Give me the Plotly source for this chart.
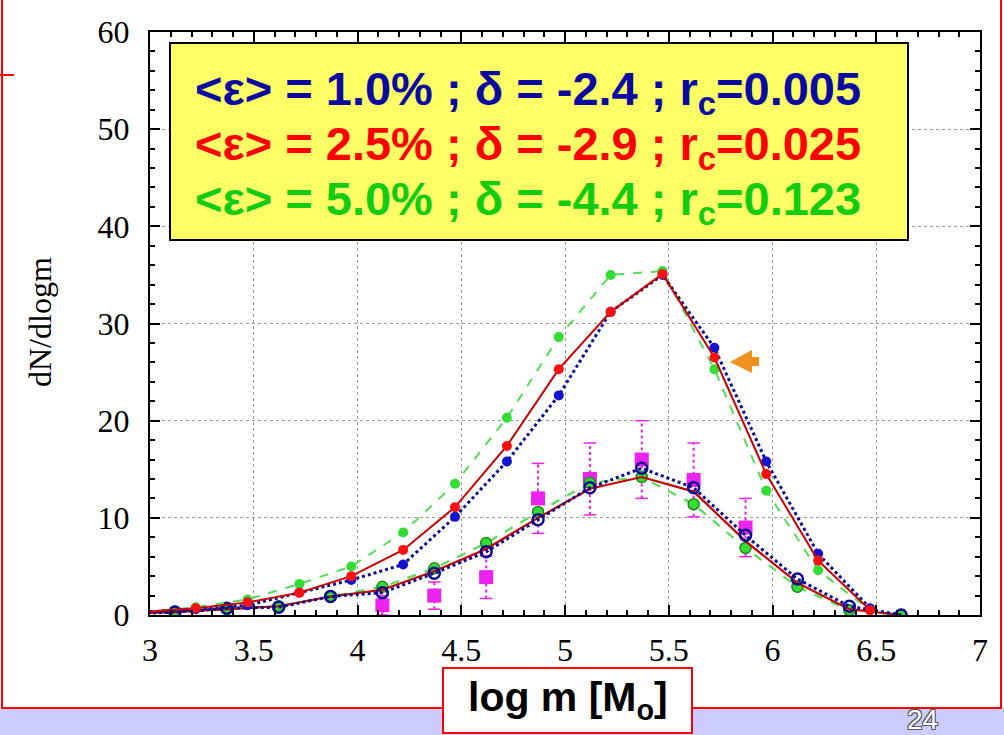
import plotly.graph_objects as go

# ---------------- data ----------------
x_upper = [2.97, 3.22, 3.47, 3.72, 3.97, 4.22, 4.47, 4.72, 4.97, 5.22, 5.47, 5.72, 5.97, 6.22, 6.47]
blue_upper = [0.3, 0.6, 1.0, 2.3, 3.6, 5.2, 10.1, 15.8, 22.6, 31.2, 35.0, 27.5, 15.8, 6.3, 0.7]
red_upper = [0.3, 0.7, 1.3, 2.3, 4.0, 6.7, 11.1, 17.4, 25.3, 31.2, 35.1, 26.5, 14.5, 5.6, 0.5]
green_upper = [0.3, 0.8, 1.6, 3.2, 5.0, 8.5, 13.5, 20.3, 28.6, 35.0, 35.4, 25.3, 12.8, 4.6, 0.5]

x_lower = [2.87, 3.12, 3.37, 3.62, 3.87, 4.12, 4.37, 4.62, 4.87, 5.12, 5.37, 5.62, 5.87, 6.12, 6.37, 6.62]
blue_lower = [0.1, 0.3, 0.7, 0.8, 1.9, 2.3, 4.3, 6.5, 9.8, 13.1, 15.1, 13.1, 8.2, 3.7, 0.9, 0.0]
red_lower = [0.1, 0.3, 0.6, 0.9, 1.9, 2.6, 4.5, 6.8, 10.0, 13.0, 14.2, 12.7, 7.6, 3.3, 0.6, 0.0]
green_lower = [0.1, 0.3, 0.6, 0.9, 1.9, 2.9, 4.8, 7.4, 10.6, 13.6, 14.2, 11.4, 6.9, 2.9, 0.5, 0.0]

obs_x = [4.12, 4.37, 4.62, 4.87, 5.12, 5.37, 5.62, 5.87]
obs_y = [1.0, 2.0, 3.9, 12.0, 14.0, 16.0, 13.9, 9.0]
obs_err = [1.0, 1.4, 2.2, 3.6, 3.7, 4.0, 3.8, 3.0]

x_ticks = [3, 3.5, 4, 4.5, 5, 5.5, 6, 6.5, 7]
y_ticks = [0, 10, 20, 30, 40, 50, 60]

legend_lines = [
    ("&lt;ε&gt; = 1.0% ; δ = -2.4 ; r<sub>c</sub>=0.005", "#0a0aa0"),
    ("&lt;ε&gt; = 2.5% ; δ = -2.9 ; r<sub>c</sub>=0.025", "#ff0000"),
    ("&lt;ε&gt; = 5.0% ; δ = -4.4 ; r<sub>c</sub>=0.123", "#11cc11"),
]

# ---------------- layout geometry ----------------
FW, FH = 1004, 735
L, R, T, B = 150, 980, 32, 615
W, H = R - L, B - T


def px(x):
    return (x - L) / W


def py(y):
    return (B - y) / H


BLUE_LINE = "#0a0a90"
BLUE_MK = "#1414d0"
RED_LINE = "#c80000"
RED_MK = "#ff1010"
GREEN_LINE = "#55dd55"
GREEN_MK = "#33dd33"
MAGENTA = "#ee22ee"

fig = go.Figure()

# error bars of observed data (dotted)
ex, ey, cx, cy = [], [], [], []
for xv, yv, ev in zip(obs_x, obs_y, obs_err):
    ex += [xv, xv, None]
    ey += [max(yv - ev, 0), yv + ev, None]
    cx += [xv, xv]
    cy += [max(yv - ev, 0), yv + ev]
fig.add_trace(go.Scatter(x=ex, y=ey, mode="lines",
                         line=dict(color=MAGENTA, width=2, dash="dot"),
                         hoverinfo="skip", showlegend=False))
fig.add_trace(go.Scatter(x=cx, y=cy, mode="markers",
                         marker=dict(symbol="line-ew", size=9, line=dict(color=MAGENTA, width=1.5)),
                         hoverinfo="skip", showlegend=False))
fig.add_trace(go.Scatter(x=obs_x, y=obs_y, mode="markers",
                         marker=dict(symbol="square", size=14, color=MAGENTA),
                         showlegend=False))

# lower curves
fig.add_trace(go.Scatter(x=x_lower, y=green_lower, mode="lines+markers",
                         line=dict(color=GREEN_LINE, width=2.2, dash="dash"),
                         marker=dict(symbol="circle", size=11, color=GREEN_MK,
                                     line=dict(color="#1e8a1e", width=1.5)),
                         showlegend=False))
fig.add_trace(go.Scatter(x=x_lower, y=red_lower, mode="lines",
                         line=dict(color=RED_LINE, width=2.2),
                         showlegend=False))
fig.add_trace(go.Scatter(x=x_lower, y=blue_lower, mode="lines+markers",
                         line=dict(color=BLUE_LINE, width=3, dash="dot"),
                         marker=dict(symbol="circle-open", size=11,
                                     line=dict(color=BLUE_MK, width=2.5)),
                         showlegend=False))

# upper curves
fig.add_trace(go.Scatter(x=x_upper, y=green_upper, mode="lines+markers",
                         line=dict(color=GREEN_LINE, width=2, dash="dash"),
                         marker=dict(symbol="circle", size=10, color=GREEN_MK),
                         showlegend=False))
fig.add_trace(go.Scatter(x=x_upper, y=blue_upper, mode="lines+markers",
                         line=dict(color=BLUE_LINE, width=3, dash="dot"),
                         marker=dict(symbol="circle", size=10, color=BLUE_MK),
                         showlegend=False))
fig.add_trace(go.Scatter(x=x_upper, y=red_upper, mode="lines+markers",
                         line=dict(color=RED_LINE, width=2),
                         marker=dict(symbol="circle", size=10, color=RED_MK),
                         showlegend=False))

serif = "Liberation Serif, Times New Roman, serif"
axis_common = dict(
    showline=True, linecolor="black", linewidth=2, mirror="allticks",
    ticks="inside", tickcolor="black", ticklen=10, tickwidth=1.5,
    showgrid=True, gridcolor="#999999", griddash="dot", gridwidth=1,
    zeroline=False,
    tickfont=dict(family=serif, size=32, color="black"),
)
fig.update_xaxes(range=[3, 7], tickvals=x_ticks, ticktext=[str(v) for v in x_ticks],
                 minor=dict(dtick=0.1, tick0=3, ticks="inside", ticklen=5, tickcolor="black",
                            showgrid=False),
                 ticklabelstandoff=6, **axis_common)
fig.update_yaxes(range=[0, 60], tickvals=y_ticks, ticktext=[str(v) for v in y_ticks],
                 minor=dict(dtick=2, tick0=0, ticks="inside", ticklen=5, tickcolor="black",
                            showgrid=False),
                 ticklabelstandoff=12, **axis_common)

shapes = []
# bottom lavender band
shapes.append(dict(type="rect", xref="paper", yref="paper", layer="below",
                   x0=px(-10), x1=px(FW + 10), y0=py(FH + 10), y1=py(708),
                   fillcolor="#ccccff", line=dict(width=0)))
# red slide frame
shapes.append(dict(type="rect", xref="paper", yref="paper", layer="below",
                   x0=px(2), x1=px(1001), y0=py(708), y1=py(-10),
                   fillcolor="rgba(0,0,0,0)", line=dict(color="#ff0000", width=2)))
shapes.append(dict(type="line", xref="paper", yref="paper", layer="below",
                   x0=px(-5), x1=px(14), y0=py(75), y1=py(75),
                   line=dict(color="#ff0000", width=2)))
# legend box
shapes.append(dict(type="rect", xref="paper", yref="paper", layer="above",
                   x0=px(170), x1=px(908), y0=py(240), y1=py(43),
                   fillcolor="#ffff66", line=dict(color="black", width=2)))
# x-title box
shapes.append(dict(type="rect", xref="paper", yref="paper", layer="above",
                   x0=px(443), x1=px(692), y0=py(733), y1=py(668),
                   fillcolor="white", line=dict(color="#ff0000", width=2)))
# orange arrow
pts = [(730, 362), (752, 350), (752, 357), (759, 357), (759, 366), (752, 366), (752, 373)]
path = "M " + " L ".join(f"{px(a):.5f},{py(b):.5f}" for a, b in pts) + " Z"
shapes.append(dict(type="path", xref="paper", yref="paper", layer="above",
                   path=path, fillcolor="#f0901e", line=dict(width=0)))

annotations = []
sans = "Liberation Sans, Arial, sans-serif"
for i, (txt, col) in enumerate(legend_lines):
    annotations.append(dict(xref="paper", yref="paper", x=px(528), y=py(92 + 55 * i),
                            text=f"<b>{txt}</b>", showarrow=False, xanchor="center", yanchor="middle",
                            font=dict(family=sans, size=47, color=col)))
annotations.append(dict(xref="paper", yref="paper", x=px(568), y=py(700),
                        text="<b>log m [M<sub>o</sub>]</b>", showarrow=False,
                        xanchor="center", yanchor="middle",
                        font=dict(family=sans, size=41, color="black")))
annotations.append(dict(xref="paper", yref="paper", x=px(40), y=py(322),
                        text="dN/dlogm", textangle=-90, showarrow=False,
                        xanchor="center", yanchor="middle",
                        font=dict(family=serif, size=32, color="black")))
annotations.append(dict(xref="paper", yref="paper", x=px(922), y=py(719),
                        text="24", showarrow=False, xanchor="center", yanchor="middle",
                        font=dict(family=sans, size=28, color="white",
                                  shadow="-1px -1px 0 #555, 1px -1px 0 #555, -1px 1px 0 #555, 1px 1px 0 #555")))

fig.update_layout(
    width=FW, height=FH,
    margin=dict(l=L, r=FW - R, t=T, b=FH - B),
    paper_bgcolor="white", plot_bgcolor="white",
    showlegend=False,
    shapes=shapes, annotations=annotations,
)

fig.write_html("out.html", config={"displayModeBar": False},
               post_script="document.body.style.margin='0px';document.body.style.overflow='hidden';")
